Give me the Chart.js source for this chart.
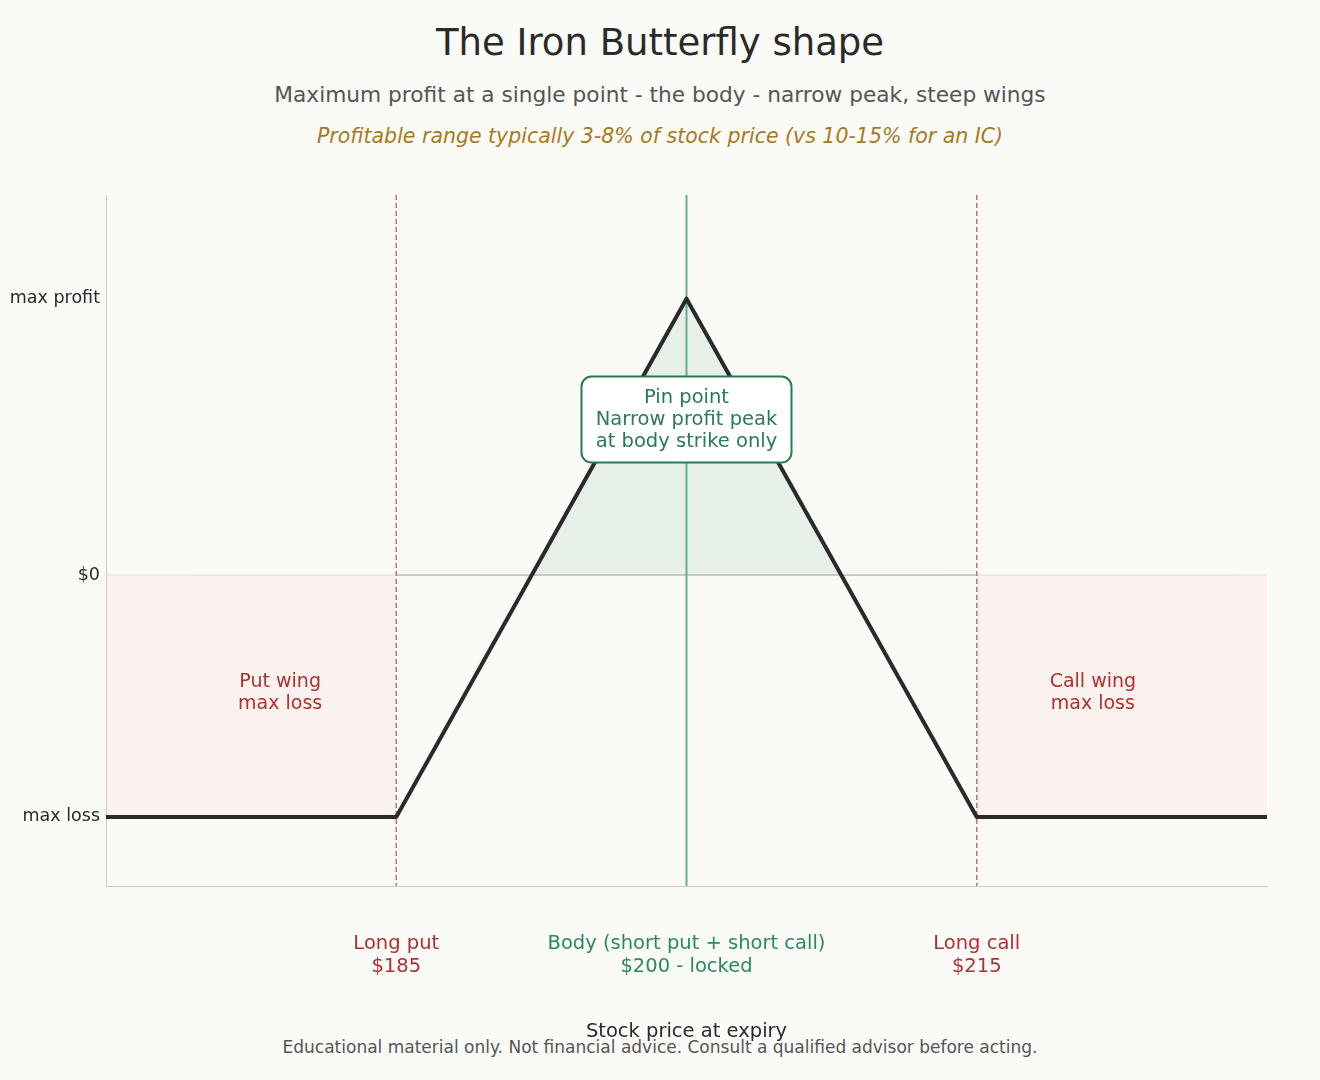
<!DOCTYPE html>
<html><head><meta charset="utf-8">
<script src="https://cdn.jsdelivr.net/npm/chart.js@4"></script>
<style>
body{margin:0;background:#fafaf7;font-family:"DejaVu Sans",sans-serif;width:1320px;height:1080px;position:relative;overflow:hidden}
.t{position:absolute;left:0;width:1320px;text-align:center}
#c{position:absolute;left:0;top:170px}
</style></head><body>
<div class="t" style="top:21px;font-size:37px;color:#2a2a2a">The Iron Butterfly shape</div>
<div class="t" style="top:82px;font-size:21.7px;color:#555">Maximum profit at a single point - the body - narrow peak, steep wings</div>
<div class="t" style="top:124px;font-size:20.5px;color:#a87a1e;font-style:italic">Profitable range typically 3-8% of stock price (vs 10-15% for an IC)</div>
<div class="t" style="top:1037px;font-size:17px;color:#555">Educational material only. Not financial advice. Consult a qualified advisor before acting.</div>
<canvas id="c" width="1320" height="890"></canvas>
<script>
const prices=[170,185,200,215,230];
const pnl=[-7,-7,8,-7,-7];
const strikes=[185,200,215];
const strikeLabels=[["Long put","$185"],["Body (short put + short call)","$200 - locked"],["Long call","$215"]];
const strikeColors=["#b03030","#2a8a60","#b03030"];
const yTickVals=[8,0,-7];
const yTickLabels={"8":"max profit","0":"$0","-7":"max loss"};
const xMin=170,xMax=230,yMin=-9,yMax=11,maxLoss=-7;

const deco={id:'deco',
beforeDatasetsDraw(ch){const{ctx,scales:{x,y},chartArea:a}=ch;ctx.save();
 ctx.fillStyle='rgba(245,205,205,0.18)';
 ctx.fillRect(x.getPixelForValue(170),y.getPixelForValue(0),x.getPixelForValue(185)-x.getPixelForValue(170),y.getPixelForValue(maxLoss)-y.getPixelForValue(0));
 ctx.fillRect(x.getPixelForValue(215),y.getPixelForValue(0),x.getPixelForValue(230)-x.getPixelForValue(215),y.getPixelForValue(maxLoss)-y.getPixelForValue(0));
 ctx.strokeStyle='#e8dada';ctx.lineWidth=1;ctx.beginPath();ctx.moveTo(a.left,y.getPixelForValue(0));ctx.lineTo(a.right,y.getPixelForValue(0));ctx.stroke();
 ctx.strokeStyle='#aaa';ctx.beginPath();ctx.moveTo(x.getPixelForValue(185),y.getPixelForValue(0));ctx.lineTo(x.getPixelForValue(215),y.getPixelForValue(0));ctx.stroke();
 ctx.setLineDash([5,3]);ctx.strokeStyle='#c87070';ctx.lineWidth=1.5;
 [185,215].forEach(v=>{const px=x.getPixelForValue(v);ctx.beginPath();ctx.moveTo(px,a.top);ctx.lineTo(px,a.bottom);ctx.stroke();});
 ctx.setLineDash([]);ctx.strokeStyle='#6ab090';ctx.lineWidth=2;
 const g=x.getPixelForValue(200);ctx.beginPath();ctx.moveTo(g,a.top);ctx.lineTo(g,a.bottom);ctx.stroke();
 ctx.font='19px "DejaVu Sans"';ctx.textAlign='center';ctx.fillStyle='#b03030';
 const yl=y.getPixelForValue(-3.4);
 ctx.fillText('Put wing',x.getPixelForValue(179),yl-6);ctx.fillText('max loss',x.getPixelForValue(179),yl+16);
 ctx.fillText('Call wing',x.getPixelForValue(221),yl-6);ctx.fillText('max loss',x.getPixelForValue(221),yl+16);
 ctx.restore();},
afterDatasetsDraw(ch){const{ctx,scales:{x,y}}=ch;ctx.save();
 const cx=x.getPixelForValue(200),cy=y.getPixelForValue(4.5);const w=210,h=86;
 ctx.fillStyle='#fff';ctx.strokeStyle='#2a7a55';ctx.lineWidth=2;ctx.beginPath();ctx.roundRect(cx-w/2,cy-h/2,w,h,10);ctx.fill();ctx.stroke();
 ctx.fillStyle='#2a7a55';ctx.font='19.5px "DejaVu Sans"';ctx.textAlign='center';ctx.textBaseline='middle';
 ['Pin point','Narrow profit peak','at body strike only'].forEach((t,i)=>ctx.fillText(t,cx,cy-22+i*22));
 ctx.restore();}};

new Chart(document.getElementById('c'),{type:'line',
data:{datasets:[{data:prices.map((p,i)=>({x:p,y:pnl[i]})),borderColor:'#2a2a2a',borderWidth:4,borderJoinStyle:'round',pointRadius:0,tension:0,
 fill:{target:{value:0},above:'rgba(42,138,96,0.09)',below:'rgba(0,0,0,0)'}}]},
options:{responsive:false,animation:false,layout:{padding:{top:25,right:53,left:0,bottom:0}},
plugins:{legend:{display:false},tooltip:{enabled:false}},
scales:{
x:{type:'linear',min:xMin,max:xMax,grid:{display:false,drawTicks:false},border:{color:'#ccc'},
 afterBuildTicks(s){s.ticks=strikes.map(v=>({value:v}));},
 afterFit(s){s.height=174;},
 ticks:{padding:46,font:{size:19.5,family:'DejaVu Sans'},maxRotation:0,autoSkip:false,
  color:c=>strikeColors[strikes.indexOf(c.tick.value)]||'#333',
  callback:v=>strikeLabels[strikes.indexOf(v)]||''},
 title:{display:true,text:'Stock price at expiry',color:'#2a2a2a',font:{size:19.5,family:'DejaVu Sans'},padding:{top:0,bottom:16}}},
y:{min:yMin,max:yMax,grid:{display:false,drawTicks:false},border:{color:'#ccc'},
 afterBuildTicks(s){s.ticks=yTickVals.map(v=>({value:v}));},
 afterFit(s){s.width=106;},
 ticks:{padding:6,color:'#2a2a2a',font:{size:17.5,family:'DejaVu Sans'},callback:v=>yTickLabels[String(v)]}}}},
plugins:[deco]});
</script></body></html>
